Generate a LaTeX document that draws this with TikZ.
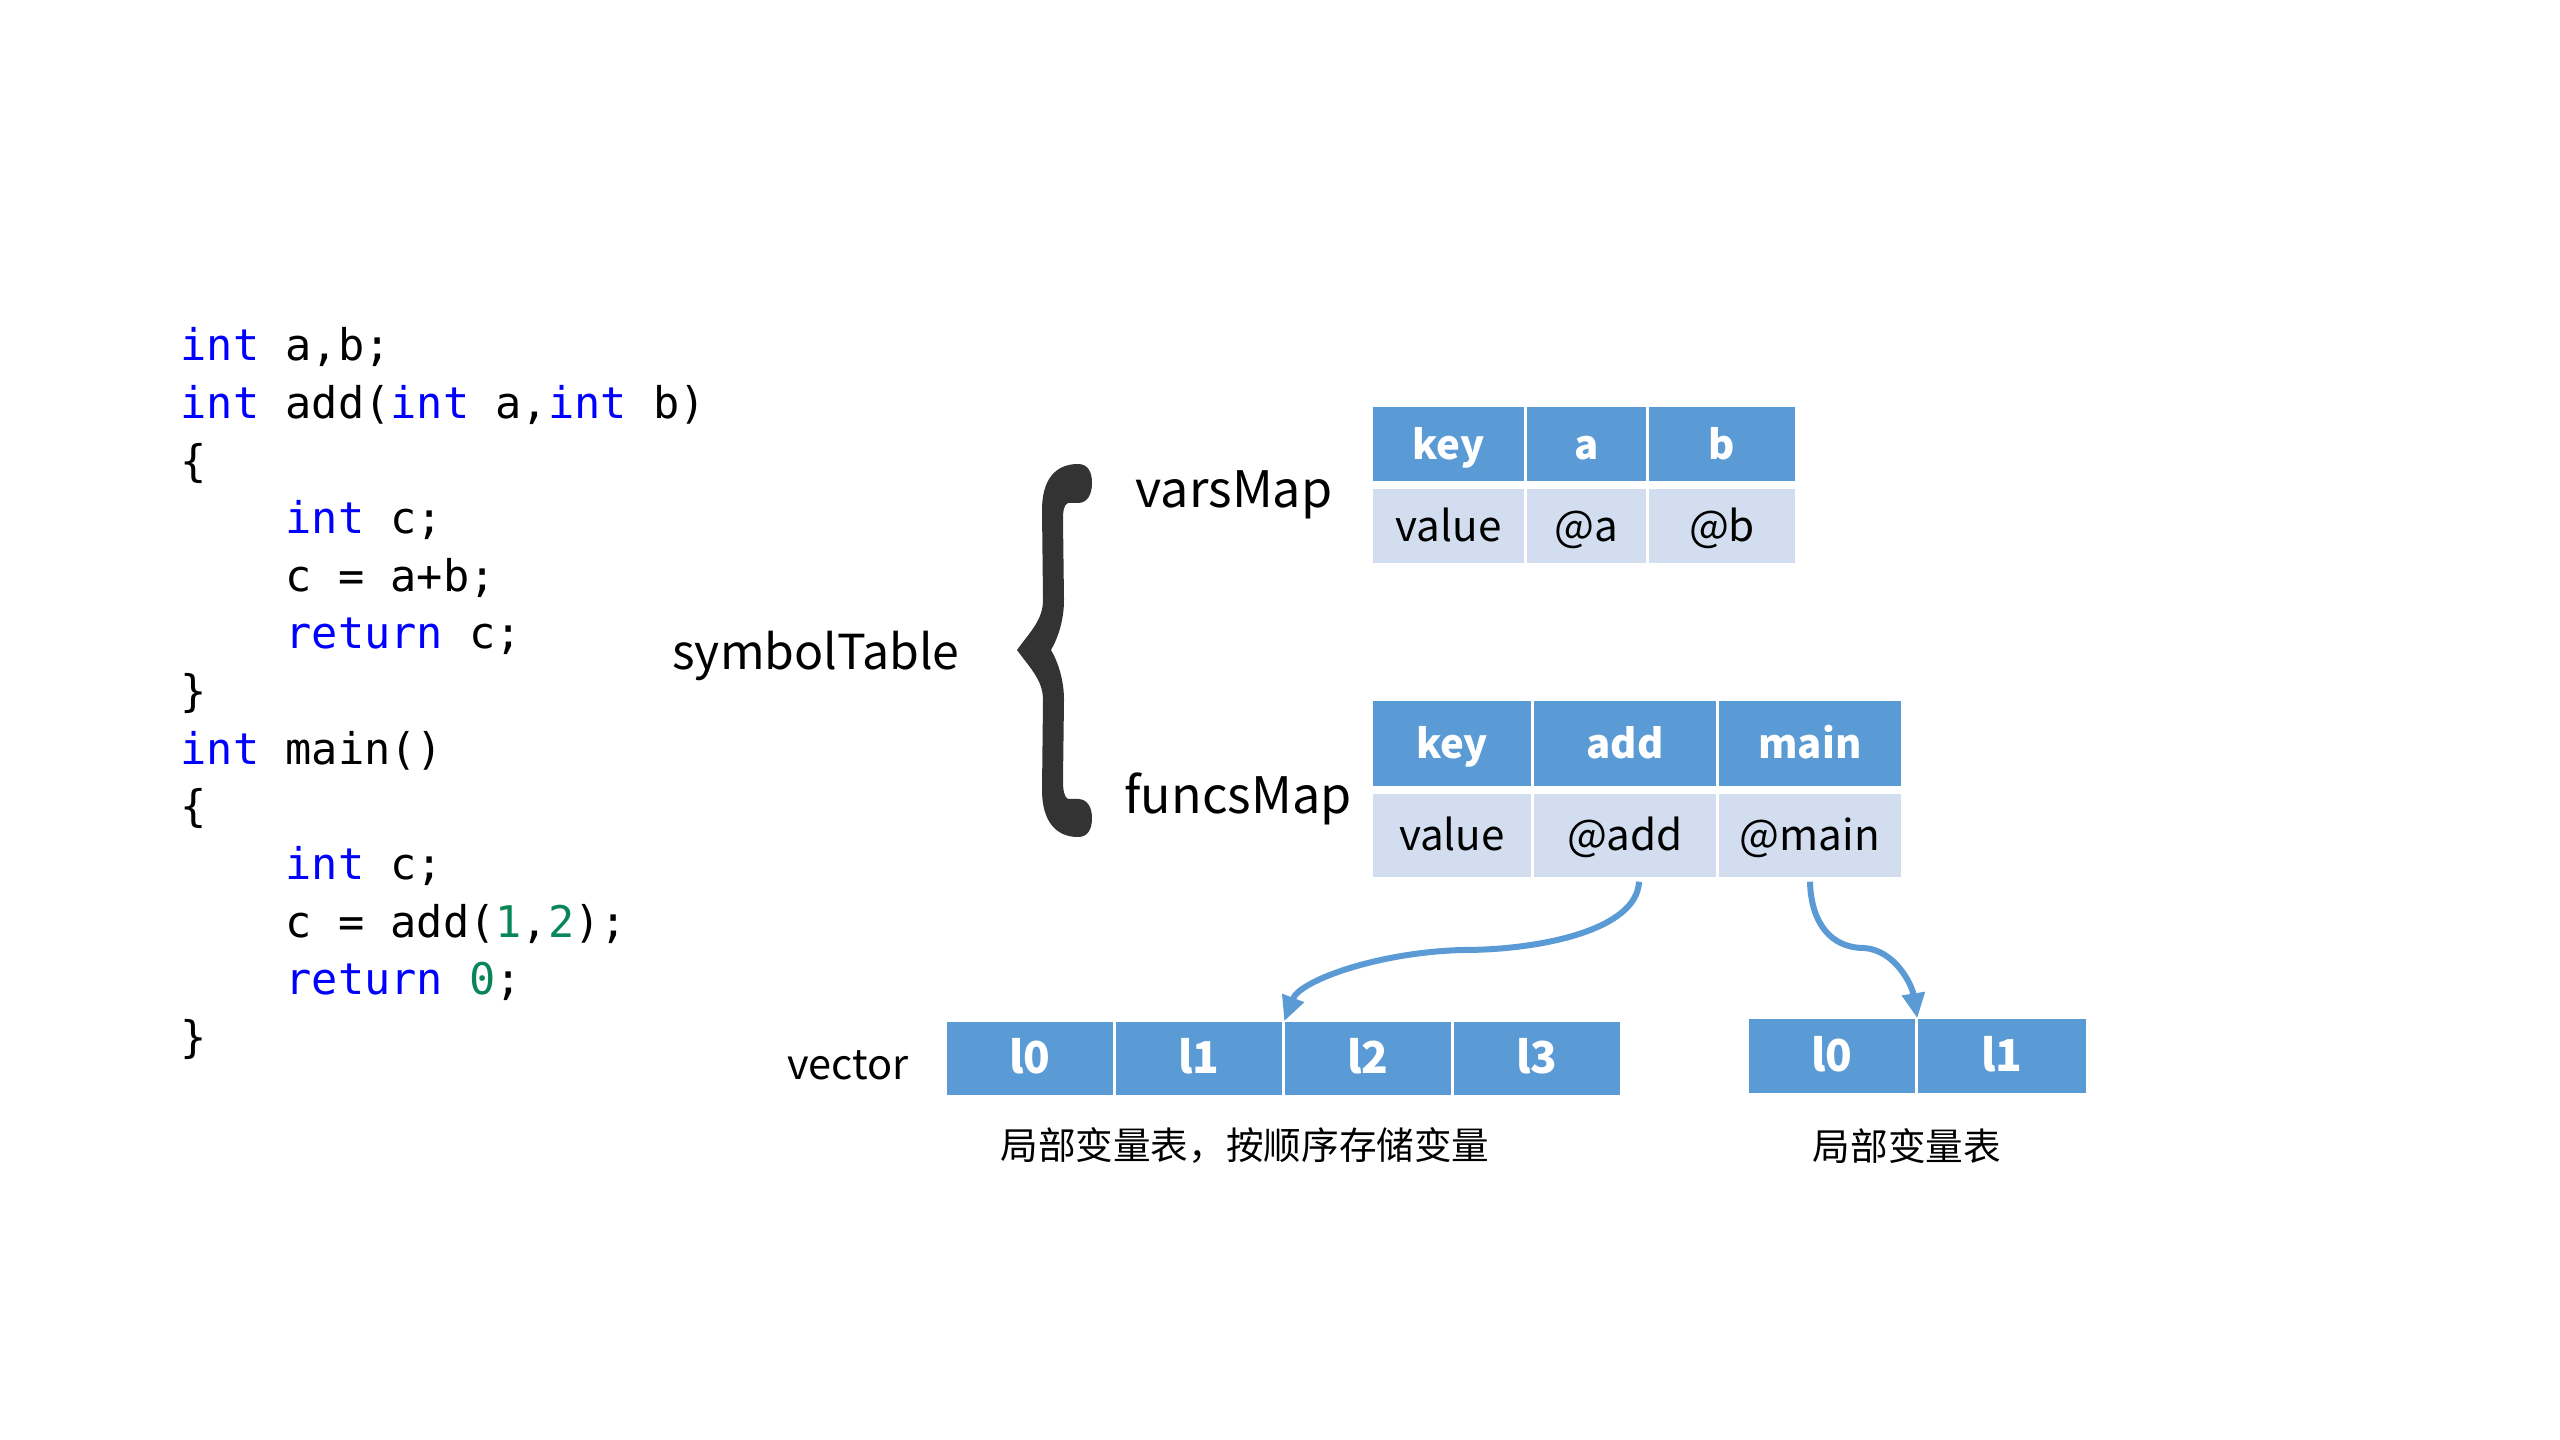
\documentclass[tikz,border=0pt]{standalone}
\usepackage{fontspec}
\setmainfont{Noto Sans CJK SC}
\setmonofont{DejaVu Sans Mono}
\usetikzlibrary{arrows.meta}
\definecolor{hdrblue}{HTML}{5B9BD5}
\definecolor{rowblue}{HTML}{D2DEEF}
\definecolor{kwblue}{HTML}{0000FF}
\definecolor{numgreen}{HTML}{098658}
\definecolor{bracegray}{HTML}{333333}
\newcommand\kw[1]{\textcolor{kwblue}{#1}}
\newcommand\nm[1]{\textcolor{numgreen}{#1}}
\begin{document}
\begin{tikzpicture}[x=0.01cm,y=-0.01cm,
  codeline/.style={anchor=base west,inner sep=0pt,font=\fontsize{12.4}{15}\selectfont\ttfamily},
  lbl/.style={anchor=base,inner sep=0pt,font=\fontsize{14.3}{17}\selectfont},
  small/.style={anchor=base,inner sep=0pt,font=\fontsize{11.8}{14}\selectfont},
  cjk/.style={anchor=center,inner sep=0pt,font=\fontsize{10.7}{13}\selectfont},
  cellbase/.style={inner sep=0pt,text height=11pt,text depth=2.2pt,anchor=center},
  hdr/.style={cellbase,fill=hdrblue,text=white,font=\fontsize{11.4}{14}\selectfont\bfseries},
  val/.style={cellbase,fill=rowblue,text=black,font=\fontsize{12}{14}\selectfont},
  vcell/.style={cellbase,fill=hdrblue,text=white,font=\fontsize{12.5}{15}\selectfont\bfseries},
  arr/.style={draw=hdrblue,line width=0.06cm,-{Triangle[length=0.25cm,width=0.22cm]}}
]
\useasboundingbox (0,0) rectangle (2560,1440);
\fill[white] (0,0) rectangle (2560,1440);

% code
\node[codeline] (c1) at (180,361) {\kw{int} a,b;};
\node[codeline] (c2) at (180,418.6) {\kw{int} add(\kw{int} a,\kw{int} b)};
\node[codeline] (c3) at (180,476.2) {\{};
\node[codeline] (c4) at (285,533.8) {\kw{int} c;};
\node[codeline] (c5) at (285,591.4) {c = a+b;};
\node[codeline] (c6) at (285,649) {\kw{return} c;};
\node[codeline] (c7) at (180,706.6) {\}};
\node[codeline] (c8) at (180,764.2) {\kw{int} main()};
\node[codeline] (c9) at (180,821.8) {\{};
\node[codeline] (c10) at (285,879.4) {\kw{int} c;};
\node[codeline] (c11) at (285,937) {c = add(\nm{1},\nm{2});};
\node[codeline] (c12) at (285,994.6) {\kw{return} \nm{0};};
\node[codeline] (c13) at (180,1052.2) {\}};

% symbol table label and brace
\node[lbl,font=\fontsize{13.7}{16}\selectfont] (sym) at (816,670) {symbolTable};
\fill[bracegray] (1078,464) .. controls (1088,464) and (1092,472) .. (1092,483)
  .. controls (1092,495) and (1087,503) .. (1078,503) -- (1068,503)
  .. controls (1064,505) and (1063,510) .. (1063,520) -- (1064,600)
  .. controls (1064,620) and (1058,638) .. (1051,650)
  .. controls (1058,662) and (1064,680) .. (1064,700) -- (1063,780)
  .. controls (1063,790) and (1064,797) .. (1068,799) -- (1078,799)
  .. controls (1087,799) and (1092,807) .. (1092,818)
  .. controls (1092,829) and (1088,837) .. (1078,837)
  .. controls (1055,837) and (1042,820) .. (1042,790) -- (1043,700)
  .. controls (1043,680) and (1030,668) .. (1017,650)
  .. controls (1030,632) and (1043,620) .. (1043,600) -- (1042,510)
  .. controls (1042,480) and (1055,464) .. (1078,464) -- cycle;

\node[lbl] (vm) at (1234,508) {varsMap};
\node[lbl] (fm) at (1238,814) {funcsMap};

% varsMap table
\node[hdr,minimum width=1.51cm,minimum height=0.74cm] (v-key) at (1448.5,444) {key};
\node[hdr,minimum width=1.19cm,minimum height=0.74cm] (v-a) at (1586.5,444) {a};
\node[hdr,minimum width=1.46cm,minimum height=0.74cm] (v-b) at (1722,444) {b};
\node[val,minimum width=1.51cm,minimum height=0.74cm] (v-val) at (1448.5,526) {value};
\node[val,minimum width=1.19cm,minimum height=0.74cm] (v-va) at (1586.5,526) {@a};
\node[val,minimum width=1.46cm,minimum height=0.74cm] (v-vb) at (1722,526) {@b};

% funcsMap table
\node[hdr,minimum width=1.58cm,minimum height=0.85cm] (f-key) at (1452,743.5) {key};
\node[hdr,minimum width=1.82cm,minimum height=0.85cm] (f-addh) at (1625,743.5) {add};
\node[hdr,minimum width=1.82cm,minimum height=0.85cm] (f-mainh) at (1810,743.5) {main};
\node[val,minimum width=1.58cm,minimum height=0.83cm] (f-val) at (1452,835.5) {value};
\node[val,minimum width=1.82cm,minimum height=0.83cm] (f-add) at (1625,835.5) {@add};
\node[val,minimum width=1.82cm,minimum height=0.83cm] (f-main) at (1810,835.5) {@main};

% vectors
\node[small] (vec) at (848,1079) {vector};
\node[vcell,minimum width=1.66cm,minimum height=0.73cm] (v1-0) at (1030,1058.5) {l0};
\node[vcell,minimum width=1.66cm,minimum height=0.73cm] (v1-1) at (1199,1058.5) {l1};
\node[vcell,minimum width=1.66cm,minimum height=0.73cm] (v1-2) at (1368,1058.5) {l2};
\node[vcell,minimum width=1.66cm,minimum height=0.73cm] (v1-3) at (1537,1058.5) {l3};
\node[vcell,minimum width=1.66cm,minimum height=0.74cm] (v2-0) at (1832,1056) {l0};
\node[vcell,minimum width=1.68cm,minimum height=0.74cm] (v2-1) at (2002,1056) {l1};

\node[cjk] (t1) at (1245,1146) {局部变量表，按顺序存储变量};
\node[cjk] (t2) at (1907,1146) {局部变量表};

% arrows
\draw[arr] ([xshift=0.14cm,yshift=-0.04cm]f-add.south)
  .. controls (1637,930) and (1540,950) .. (1463,950)
  .. controls (1380,952) and (1300,980) .. (v1-2.north west);
\draw[arr] ([yshift=-0.04cm]f-main.south)
  .. controls (1811,922) and (1830,948) .. (1864,948)
  .. controls (1895,950) and (1912,985) .. (v2-1.north west);
\end{tikzpicture}
\end{document}
